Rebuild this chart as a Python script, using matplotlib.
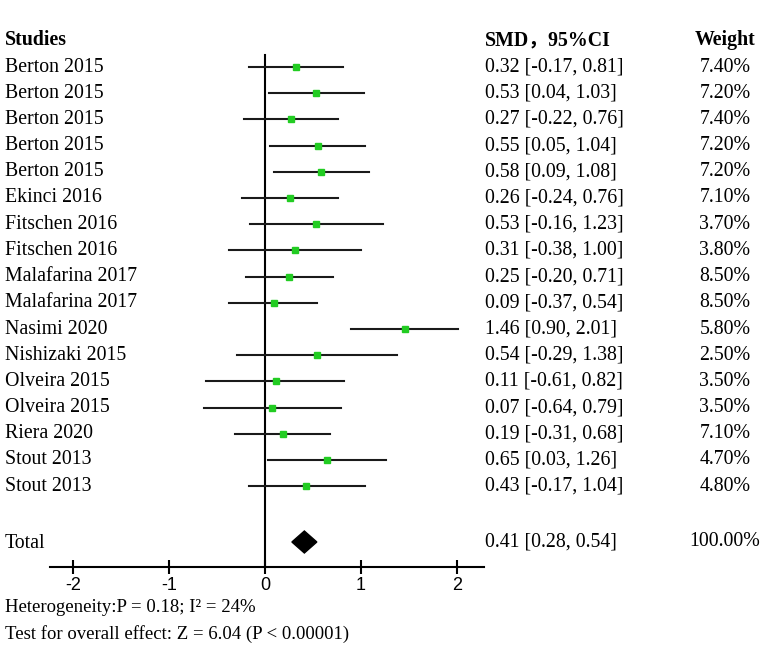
import matplotlib
matplotlib.use('Agg')
import matplotlib.pyplot as plt
from matplotlib.patches import Polygon

plt.rcParams['font.family'] = ['Liberation Serif', 'Noto Sans CJK SC']

# study data
studies = ['Berton 2015', 'Berton 2015', 'Berton 2015', 'Berton 2015', 'Berton 2015',
           'Ekinci 2016', 'Fitschen 2016', 'Fitschen 2016', 'Malafarina 2017',
           'Malafarina 2017', 'Nasimi 2020', 'Nishizaki 2015', 'Olveira 2015',
           'Olveira 2015', 'Riera 2020', 'Stout 2013', 'Stout 2013']
smd = [0.32, 0.53, 0.27, 0.55, 0.58, 0.26, 0.53, 0.31, 0.25, 0.09, 1.46, 0.54, 0.11, 0.07, 0.19, 0.65, 0.43]
lower = [-0.17, 0.04, -0.22, 0.05, 0.09, -0.24, -0.16, -0.38, -0.20, -0.37, 0.90, -0.29, -0.61, -0.64, -0.31, 0.03, -0.17]
upper = [0.81, 1.03, 0.76, 1.04, 1.08, 0.76, 1.23, 1.00, 0.71, 0.54, 2.01, 1.38, 0.82, 0.79, 0.68, 1.26, 1.04]
weights = ['7.40%', '7.20%', '7.40%', '7.20%', '7.20%', '7.10%', '3.70%', '3.80%', '8.50%',
           '8.50%', '5.80%', '2.50%', '3.50%', '3.50%', '7.10%', '4.70%', '4.80%']
total_smd, total_lo, total_hi = 0.41, 0.28, 0.54
total_weight = '100.00%'
xticks = [-2, -1, 0, 1, 2]

W, H = 765, 651
fig = plt.figure(figsize=(W / 100, H / 100), dpi=100)

def ftext(px, py, s, **kw):
    fig.text(px / W, 1 - py / H, s, va='center', **kw)

# forest axes, y in pixel units
ax_l, ax_r, ax_t, ax_b = 50, 484, 40, 567
ax = fig.add_axes([ax_l / W, 1 - ax_b / H, (ax_r - ax_l) / W, (ax_b - ax_t) / H])
ax.set_xlim((ax_l - 265) / 96.0, (ax_r - 265) / 96.0)
ax.set_ylim(ax_b, ax_t)
for s in ['top', 'right', 'left']:
    ax.spines[s].set_visible(False)
ax.spines['bottom'].set_linewidth(1.5)
ax.set_yticks([])
ax.set_xticks(xticks)
ax.set_xticklabels([str(t) for t in xticks], family='Liberation Sans', fontsize=13)
ax.tick_params(axis='x', direction='inout', length=10, width=1.5, pad=2)

ax.plot([0, 0], [55, ax_b], color='black', lw=1.5, zorder=1)

fs = 14.3
row0, step = 67, 26.2
for i in range(len(studies)):
    y = row0 + i * step
    ax.plot([lower[i], upper[i]], [y, y], color='#1a1a1a', lw=1.5, zorder=2)
    ax.plot(smd[i], y, marker='s', ms=4, color='#22cc22', mec='#22cc22', zorder=3)
    ftext(5, y, studies[i], fontsize=fs)
    ftext(485, y, '%.2f [%.2f, %.2f]' % (smd[i], lower[i], upper[i]), fontsize=fs)
    ftext(725, y, weights[i], fontsize=fs, ha='center')

ty = 542
ax.add_patch(Polygon([[total_lo, ty], [total_smd, ty - 11], [total_hi, ty], [total_smd, ty + 11]],
                     closed=True, color='black', zorder=3))
ftext(5, ty + 2, 'Total', fontsize=fs)
ftext(485, ty, '%.2f [%.2f, %.2f]' % (total_smd, total_lo, total_hi), fontsize=fs)
ftext(725, ty, total_weight, fontsize=fs, ha='center')

ftext(5, 40, 'Studies', fontsize=fs, fontweight='bold')
ftext(485, 40, 'SMD，95%CI', fontsize=fs, fontweight='bold')
ftext(725, 40, 'Weight', fontsize=fs, fontweight='bold', ha='center')

ftext(5, 608, 'Heterogeneity:P = 0.18; I² = 24%', fontsize=13.5)
ftext(5, 634, 'Test for overall effect: Z = 6.04 (P < 0.00001)', fontsize=13.5)

fig.savefig('out.png', dpi=100)
